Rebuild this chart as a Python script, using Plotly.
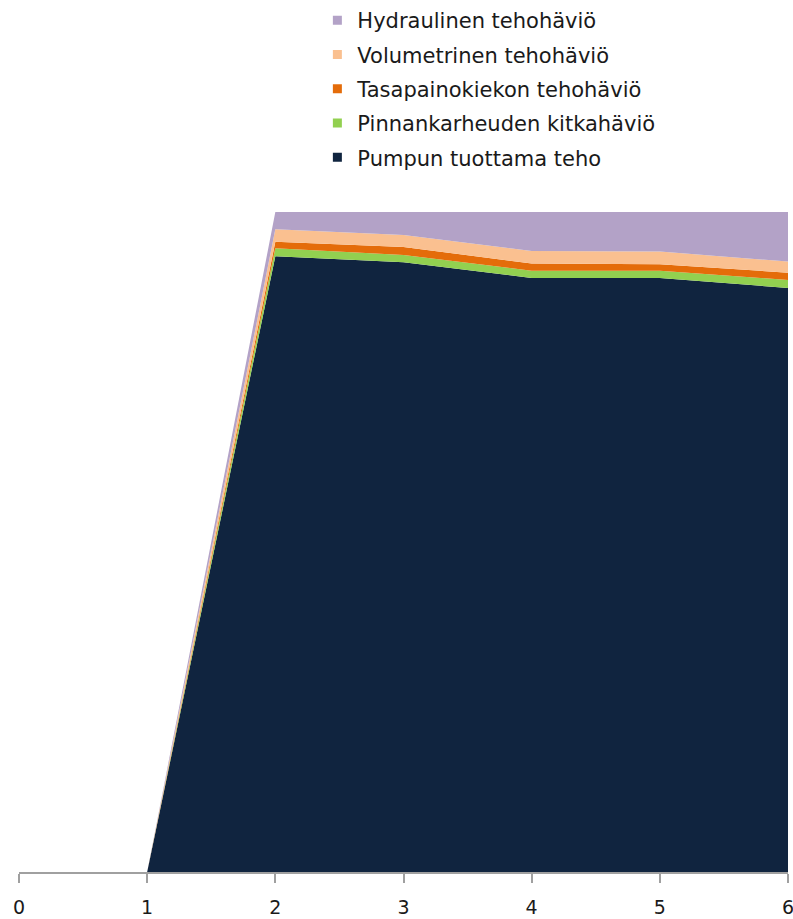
import plotly.graph_objects as go

x_vals = [0, 1, 2, 3, 4, 5, 6]
tick_labels = ["0", "1", "2", "3", "4", "5", "6"]

series_names = [
    "Pumpun tuottama teho",
    "Pinnankarheuden kitkahäviö",
    "Tasapainokiekon tehohäviö",
    "Volumetrinen tehohäviö",
    "Hydraulinen tehohäviö",
]
pumpun = [0, 0, 93.3, 92.4, 90.0, 90.0, 88.5]
pinnankarheus = [0, 0, 1.2, 1.1, 1.1, 1.1, 1.2]
tasapaino = [0, 0, 1.0, 1.2, 1.1, 1.0, 1.1]
volumetrinen = [0, 0, 1.9, 1.8, 1.9, 1.9, 1.7]
hydraulinen = [0, 0, 2.6, 3.5, 5.9, 6.0, 7.5]
colors = ["#10243F", "#92D050", "#E46C0A", "#FAC090", "#B3A2C7"]

series_values = [pumpun, pinnankarheus, tasapaino, volumetrinen, hydraulinen]

fig = go.Figure()
for name, vals, col in zip(series_names, series_values, colors):
    fig.add_trace(go.Scatter(
        x=x_vals, y=vals, name=name, mode="none", stackgroup="one",
        fillcolor=col, line=dict(width=0), showlegend=False, hoverinfo="skip",
    ))
# legend entries with square markers (top-most series first)
for i, (name, col) in enumerate(zip(series_names[::-1], colors[::-1])):
    fig.add_trace(go.Scatter(
        x=[None], y=[None], name=name, mode="markers",
        marker=dict(symbol="square", size=9, color=col),
        legendgroup=f"g{i}", showlegend=True,
    ))

fig.update_layout(
    width=793, height=919,
    margin=dict(l=19, r=5, t=212, b=47),
    paper_bgcolor="white", plot_bgcolor="white",
    showlegend=True,
    legend=dict(
        xref="paper", yref="container",
        x=0.388, xanchor="left", y=1.008, yanchor="top",
        traceorder="grouped", tracegroupgap=4,
        font=dict(family="DejaVu Sans", size=21, color="#1a1a1a"),
        bgcolor="rgba(0,0,0,0)", itemwidth=30,
    ),
    xaxis=dict(
        range=[0, 6], tickvals=x_vals, ticktext=tick_labels,
        showgrid=False, zeroline=False, showline=True,
        linecolor="#A0A0A0", linewidth=1.5,
        ticks="outside", ticklen=9, tickwidth=1.5, tickcolor="#A0A0A0",
        tickfont=dict(family="DejaVu Sans", size=19, color="#1a1a1a"),
        ticklabelstandoff=8, ticklabeloverflow="allow", automargin=False,
    ),
    yaxis=dict(range=[0, 100], visible=False, showgrid=False, zeroline=False,
               automargin=False),
)

fig.write_html("out.html")
